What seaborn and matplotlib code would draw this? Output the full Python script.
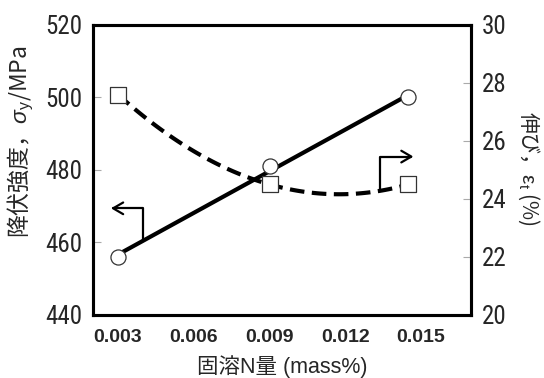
import numpy as np
import pandas as pd
import matplotlib
matplotlib.use("Agg")
import matplotlib.pyplot as plt
import seaborn as sns

# data
n_content = [0.003, 0.009, 0.0145]          # 固溶N量 (mass%)
yield_strength = [456, 481, 500]            # MPa
elongation = [27.6, 24.5, 24.5]             # %
x_ticks = [0.003, 0.006, 0.009, 0.012, 0.015]
x_tick_labels = ["0.003", "0.006", "0.009", "0.012", "0.015"]
left_ticks = [440, 460, 480, 500, 520]
right_ticks = [20, 22, 24, 26, 28, 30]

df = pd.DataFrame({"N": n_content, "YS": yield_strength, "EL": elongation})

sns.set_theme(style="white")
plt.rcParams["font.family"] = ["Liberation Sans", "Noto Sans CJK JP", "DejaVu Sans"]
plt.rcParams["mathtext.fontset"] = "custom"
plt.rcParams["mathtext.rm"] = "Liberation Sans"
plt.rcParams["mathtext.it"] = "Liberation Sans:italic"

fig = plt.figure(figsize=(5.44, 3.78), dpi=100)
ax = fig.add_axes([0.171, 0.167, 0.695, 0.767])
ax2 = ax.twinx()

# yield strength: solid fitted line + open circles
sns.regplot(data=df, x="N", y="YS", ax=ax, ci=None, scatter=False, truncate=True,
            line_kws=dict(color="black", lw=3, solid_capstyle="butt", zorder=3))
sns.scatterplot(data=df, x="N", y="YS", ax=ax, marker="o", s=118,
                facecolor="white", edgecolor="#333333", linewidth=0.9, zorder=5)

# elongation: dashed quadratic curve + open squares
sns.regplot(data=df, x="N", y="EL", ax=ax2, ci=None, scatter=False, order=2, truncate=True,
            line_kws=dict(color="black", lw=3, linestyle=(0, (3.5, 1.8)), zorder=3))
sns.scatterplot(data=df, x="N", y="EL", ax=ax2, marker="s", s=118,
                facecolor="white", edgecolor="#333333", linewidth=0.9, zorder=5)

# axis indicator arrows
ax.annotate("", xy=(0.00272, 469.4), xytext=(0.0040, 460.7),
            arrowprops=dict(arrowstyle="->,head_length=0.6,head_width=0.35", lw=1.6,
                            color="black", shrinkA=0, shrinkB=0,
                            connectionstyle="angle,angleA=90,angleB=0,rad=0"))
ax2.annotate("", xy=(0.0147, 25.46), xytext=(0.01338, 24.3),
             arrowprops=dict(arrowstyle="->,head_length=0.6,head_width=0.35", lw=1.6,
                             color="black", shrinkA=0, shrinkB=0,
                             connectionstyle="angle,angleA=90,angleB=0,rad=0"))

ax.set_xlim(0.00201, 0.01698)
ax.set_ylim(440, 520)
ax2.set_ylim(20, 30)

narrow = ["Roboto Condensed", "DejaVu Sans"]
ax.set_xticks(x_ticks)
ax.set_xticklabels(x_tick_labels, fontweight="bold", fontsize=14)
ax.set_yticks(left_ticks)
ax.set_yticklabels([str(v) for v in left_ticks], family=narrow, fontsize=18)
ax2.set_yticks(right_ticks)
ax2.set_yticklabels([str(v) for v in right_ticks], family=narrow, fontsize=18)

for a in (ax, ax2):
    a.tick_params(direction="in", length=6, width=0.8, color="#aaaaaa", pad=8)
    for s in a.spines.values():
        s.set_linewidth(2.2)
        s.set_color("black")
ax.tick_params(axis="x", pad=10)

lat_cjk = ["Liberation Sans", "Noto Sans CJK JP", "DejaVu Sans"]
cjk = ["Noto Sans CJK JP", "DejaVu Sans"]
ax.set_xlabel("固溶N量 (mass%)", family=lat_cjk, fontsize=15.5)
ax.xaxis.set_label_coords(0.5, -0.138)
ax.set_ylabel("降伏強度，$\\mathit{\\sigma}_{\\mathrm{y}}$/MPa", family=cjk, fontsize=16.5,
              va="center")
ax.yaxis.set_label_coords(-0.19, 0.597)
ax2.set_ylabel("伸び，$\\mathrm{\\epsilon}_{\\mathrm{t}}$ (%)", family=cjk, fontsize=15,
               rotation=270, va="center")
ax2.yaxis.set_label_coords(1.153, 0.507)

fig.savefig("out.png", dpi=100)
